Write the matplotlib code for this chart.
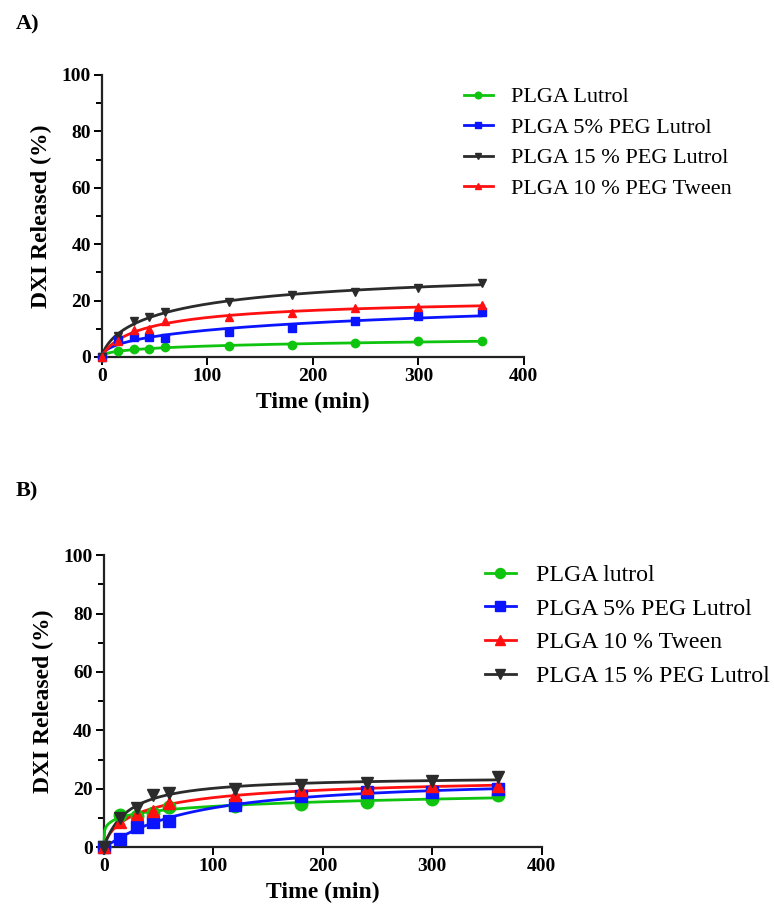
import numpy as np
import matplotlib
matplotlib.use("Agg")
import matplotlib.pyplot as plt
from matplotlib.ticker import MultipleLocator

plt.rcParams['font.family'] = ['Liberation Serif', 'DejaVu Serif']

# sampling times (min)
time_min = [0, 15, 30, 45, 60, 120, 180, 240, 300, 360]

# panel A - DXI released (%)
a_lutrol = [0, 2.0, 2.7, 2.9, 3.5, 4.0, 4.3, 5.0, 5.5, 5.6]
a_peg5_lutrol = [0, 6.0, 7.0, 7.0, 6.6, 8.8, 10.2, 12.7, 14.6, 15.8]
a_peg15_lutrol = [0, 7.3, 12.8, 14.1, 15.9, 19.6, 21.9, 23.2, 24.6, 26.3]
a_peg10_tween = [0, 5.5, 9.4, 10.0, 12.9, 14.1, 15.5, 17.4, 17.8, 18.3]

# panel B - DXI released (%)
b_lutrol = [0, 11.2, 10.7, 11.8, 13.7, 14.0, 14.7, 15.6, 16.4, 17.9]
b_peg5_lutrol = [0, 2.8, 7.0, 8.8, 9.0, 14.6, 17.5, 18.8, 19.0, 19.9]
b_tween10 = [0, 8.5, 11.5, 12.3, 15.2, 18.0, 19.5, 20.2, 20.8, 20.9]
b_peg15_lutrol = [0, 10.0, 13.3, 18.0, 18.5, 20.0, 21.2, 22.1, 22.8, 24.0]

labels_a = ['PLGA Lutrol', 'PLGA 5% PEG Lutrol', 'PLGA 15 % PEG Lutrol', 'PLGA 10 % PEG Tween']
labels_b = ['PLGA lutrol', 'PLGA 5% PEG Lutrol', 'PLGA 10 % Tween', 'PLGA 15 % PEG Lutrol']

GREEN, BLUE, BLACK, RED = '#0ec40e', '#0a14ff', '#2b2b2b', '#ff1010'


def hill_fit(t, y):
    """Least-squares fit of y = B t^h / (K^h + t^h); returns a callable."""
    t = np.asarray(t, float)
    y = np.asarray(y, float)
    best = None
    for h in np.linspace(0.25, 1.6, 55):
        for K in np.geomspace(0.5, 800, 160):
            g = t ** h / (K ** h + t ** h)
            B = (g @ y) / (g @ g)
            err = np.sum((B * g - y) ** 2)
            if best is None or err < best[0]:
                best = (err, B, K, h)
    _, B, K, h = best
    return lambda x: B * x ** h / (K ** h + x ** h)


def draw_panel(ax, series, labels, colors, markers, msize, leg_anchor, leg_size, leg_space):
    tt = np.linspace(0, 360, 400)
    handles = []
    for y, lab, c, m in zip(series, labels, colors, markers):
        f = hill_fit(time_min, y)
        ax.plot(tt, f(tt), color=c, lw=2, clip_on=False, zorder=3)
        ax.plot(time_min, y, ls='none', marker=m, ms=msize, color=c,
                clip_on=False, zorder=4)
        h, = ax.plot([], [], color=c, lw=2, marker=m, ms=msize * 0.8, label=lab)
        handles.append(h)

    ax.set_xlim(0, 400)
    ax.set_ylim(0, 100)
    ax.xaxis.set_major_locator(MultipleLocator(100))
    ax.yaxis.set_major_locator(MultipleLocator(20))
    ax.yaxis.set_minor_locator(MultipleLocator(10))
    for s in ['top', 'right']:
        ax.spines[s].set_visible(False)
    for s in ['left', 'bottom']:
        ax.spines[s].set_linewidth(1.6)
        ax.spines[s].set_color('#222222')
    ax.tick_params(which='major', length=6, width=1.4, labelsize=14, pad=2)
    ax.tick_params(which='minor', length=4, width=1.4)
    for lbl in ax.get_xticklabels() + ax.get_yticklabels():
        lbl.set_fontweight('bold')
    ax.set_xlabel('Time (min)', fontsize=17, fontweight='bold', labelpad=5)
    ax.set_ylabel('DXI Released (%)', fontsize=17, fontweight='bold', labelpad=7)
    ax.legend(handles=handles, loc='upper left', bbox_to_anchor=leg_anchor,
              bbox_transform=ax.figure.transFigure, frameon=False, fontsize=leg_size,
              handlelength=1.3, handletextpad=0.85, labelspacing=leg_space,
              borderaxespad=0, borderpad=0)


fig = plt.figure(figsize=(7.74, 9.13), dpi=100)

ax_a = fig.add_axes([0.1318, 0.609, 0.545, 0.309])
draw_panel(ax_a, [a_lutrol, a_peg5_lutrol, a_peg15_lutrol, a_peg10_tween],
           labels_a, [GREEN, BLUE, BLACK, RED], ['o', 's', 'v', '^'], 6,
           (0.599, 0.905), 16, 0.45)

ax_b = fig.add_axes([0.134, 0.072, 0.566, 0.32])
draw_panel(ax_b, [b_lutrol, b_peg5_lutrol, b_tween10, b_peg15_lutrol],
           labels_b, [GREEN, BLUE, RED, BLACK], ['o', 's', '^', 'v'], 9,
           (0.626, 0.382), 17.2, 0.5)

fig.text(0.02, 0.973, 'A)', fontsize=16, fontweight='bold', va='center')
fig.text(0.02, 0.462, 'B)', fontsize=16, fontweight='bold', va='center')

fig.savefig('out.png', dpi=100)
